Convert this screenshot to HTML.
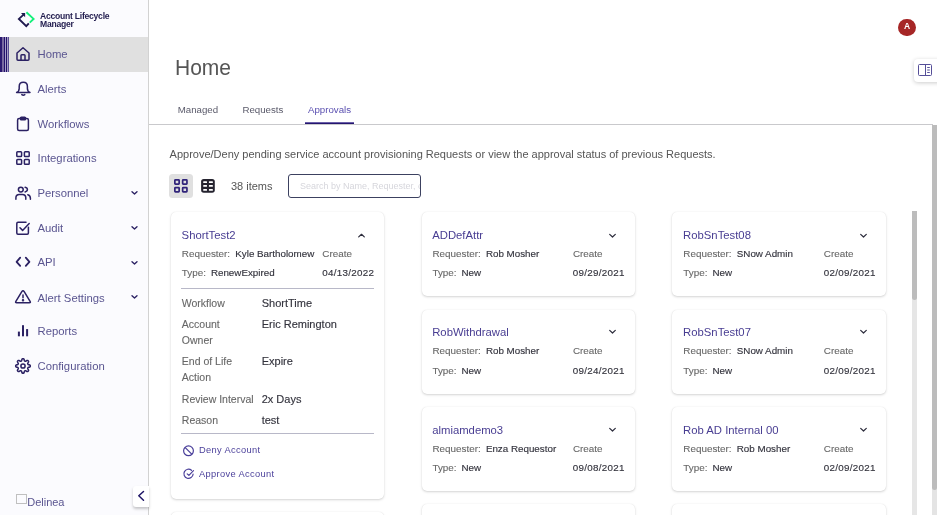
<!DOCTYPE html><html><head><meta charset="utf-8"><title>Home</title><style>
*{margin:0;padding:0;box-sizing:border-box}
html,body{width:937px;height:515px;overflow:hidden;background:#fff;font-family:'Liberation Sans', Arial, sans-serif}
.t{position:absolute;white-space:nowrap;line-height:1}
.a{position:absolute}
#side{position:absolute;left:0;top:0;width:149px;height:515px;background:#fbfbfe;border-right:1px solid #d2d2d2}
.card{position:absolute;background:#fff;border-radius:5px;box-shadow:0 1px 2.5px rgba(0,0,0,.17),0 0 1px rgba(0,0,0,.1)}
</style></head><body>
<div id="side"></div>
<svg class="a" style="left:17px;top:11px" width="18" height="17" viewBox="0 0 18 17">
<path d="M6.6 3.6 L1.9 7.9 L9.3 15.1 L11.8 12.4" fill="none" stroke="#1f1a4f" stroke-width="1.9" stroke-linejoin="miter" stroke-linecap="butt"/>
<path d="M4.0 2.1 L8.1 2.1 L8.1 6.2 Z" fill="#1f1a4f"/>
<path d="M9.4 1.2 L16.6 7.9 L12.7 11.6" fill="none" stroke="#14f07a" stroke-width="1.9" stroke-linejoin="miter"/>
</svg>
<div class="t" style="left:40.0px;top:11.72px;font-size:8.6px;color:#211c4e;font-weight:700;letter-spacing:-.25px;">Account Lifecycle</div>
<div class="t" style="left:40.0px;top:20.02px;font-size:8.6px;color:#211c4e;font-weight:700;letter-spacing:-.25px;">Manager</div>
<div class="a" style="left:0;top:37px;width:148px;height:35px;background:#e0e0e0"></div>
<div class="a" style="left:0;top:37px;width:9px;height:35px;background:linear-gradient(90deg,#2a1870 0,#2a1870 2px,#7868a0 2px,#7868a0 4px,#22106a 4px,#22106a 5px,#a59dc5 5px,#a59dc5 6px,#22106a 6px,#22106a 7px,#a59dc5 7px,#a59dc5 8px,#5a4c94 8px,#5a4c94 9px)"></div>
<div class="t" style="left:37.5px;top:48.73px;font-size:11.3px;color:#5a5590;font-weight:400;">Home</div>
<div class="t" style="left:37.5px;top:84.33px;font-size:11.3px;color:#5a5590;font-weight:400;">Alerts</div>
<div class="t" style="left:37.5px;top:119.23px;font-size:11.3px;color:#5a5590;font-weight:400;">Workflows</div>
<div class="t" style="left:37.5px;top:153.23px;font-size:11.3px;color:#5a5590;font-weight:400;">Integrations</div>
<div class="t" style="left:37.5px;top:188.43px;font-size:11.3px;color:#5a5590;font-weight:400;">Personnel</div>
<div class="t" style="left:37.5px;top:223.13px;font-size:11.3px;color:#5a5590;font-weight:400;">Audit</div>
<div class="t" style="left:37.5px;top:257.23px;font-size:11.3px;color:#5a5590;font-weight:400;">API</div>
<div class="t" style="left:37.5px;top:292.53px;font-size:11.3px;color:#5a5590;font-weight:400;">Alert Settings</div>
<div class="t" style="left:37.5px;top:326.43px;font-size:11.3px;color:#5a5590;font-weight:400;">Reports</div>
<div class="t" style="left:37.5px;top:361.13px;font-size:11.3px;color:#5a5590;font-weight:400;">Configuration</div>
<svg class="a" style="left:15px;top:46px" width="16" height="16" viewBox="0 0 16 16" fill="none" stroke="#2b2163" stroke-width="1.5" stroke-linecap="round" stroke-linejoin="round"><path d="M2 7 L8 1.8 L14 7 V13.2 Q14 14.2 13 14.2 H3 Q2 14.2 2 13.2 Z"/><path d="M6 14.2 V9.6 Q6 8.8 6.8 8.8 H9.2 Q10 8.8 10 9.6 V14.2"/></svg>
<svg class="a" style="left:15px;top:81px" width="16" height="16" viewBox="0 0 16 16" fill="none" stroke="#2b2163" stroke-width="1.5" stroke-linecap="round" stroke-linejoin="round"><path d="M1.6 11.5 Q4.2 10.4 4.2 7.5 V5.4 Q4.2 1.3 8.3 1.3 Q12.4 1.3 12.4 5.4 V7.5 Q12.4 10.4 15 11.5 Z"/><path d="M6.8 13.6 Q8.3 14.8 9.8 13.6"/></svg>
<svg class="a" style="left:15px;top:116px" width="16" height="16" viewBox="0 0 16 16" fill="none" stroke="#2b2163" stroke-width="1.5" stroke-linecap="round" stroke-linejoin="round"><rect x="2.6" y="2.6" width="10.8" height="12" rx="1.5"/><rect x="5.5" y="1.2" width="5" height="2.6" rx="0.8"/></svg>
<svg class="a" style="left:15px;top:150px" width="16" height="16" viewBox="0 0 16 16" fill="none" stroke="#2b2163" stroke-width="1.5" stroke-linecap="round" stroke-linejoin="round"><rect x="1.8" y="1.8" width="4.8" height="4.8" rx=".8"/><rect x="9.4" y="1.8" width="4.8" height="4.8" rx=".8"/><rect x="1.8" y="9.4" width="4.8" height="4.8" rx=".8"/><rect x="9.4" y="9.4" width="4.8" height="4.8" rx=".8"/></svg>
<svg class="a" style="left:14px;top:185px" width="18" height="16" viewBox="0 0 18 16" fill="none" stroke="#2b2163" stroke-width="1.5" stroke-linecap="round" stroke-linejoin="round"><circle cx="6.8" cy="4.6" r="2.4"/><path d="M1.9 14.3 V12.8 Q1.9 9.4 5.3 9.4 H8.4 Q11.8 9.4 11.8 12.8 V14.3"/><path d="M11.1 2.3 Q13.4 2.8 13.4 4.6 Q13.4 6.4 11.1 6.9"/><path d="M13.8 9.7 Q16.4 10.4 16.4 13.2 V14.3"/></svg>
<svg class="a" style="left:15px;top:220px" width="16" height="16" viewBox="0 0 16 16" fill="none" stroke="#2b2163" stroke-width="1.5" stroke-linecap="round" stroke-linejoin="round"><path d="M13.4 7.2 V13 Q13.4 14.2 12.2 14.2 H3 Q1.8 14.2 1.8 13 V3.4 Q1.8 2.2 3 2.2 H11"/><path d="M5 7.8 L7.6 10.4 L14.2 3.6"/></svg>
<svg class="a" style="left:15px;top:255px" width="16" height="16" viewBox="0 0 16 16" fill="none" stroke="#2b2163" stroke-width="1.5" stroke-linecap="round" stroke-linejoin="round"><path d="M5.2 2.7 L1.6 6.8 L5.2 10.9" stroke-width="1.8"/><path d="M10.8 2.7 L14.4 6.8 L10.8 10.9" stroke-width="1.8"/></svg>
<svg class="a" style="left:14px;top:289px" width="18" height="17" viewBox="0 0 18 17" fill="none" stroke="#2b2163" stroke-width="1.5" stroke-linecap="round" stroke-linejoin="round"><path d="M7.8 2.6 Q9 0.9 10.2 2.6 L16.1 12.3 Q17 13.8 15.3 13.8 H2.7 Q1 13.8 1.9 12.3 Z"/><path d="M9 5.9 V8.8"/><circle cx="9" cy="11.2" r=".5" fill="#2b2163"/></svg>
<svg class="a" style="left:15px;top:324px" width="16" height="16" viewBox="0 0 16 16" fill="#2b2163"><rect x="2.9" y="7.6" width="2" height="4.7"/><rect x="7" y="1.2" width="2" height="11.1"/><rect x="11.1" y="5.1" width="2" height="7.2"/></svg>
<svg class="a" style="left:14px;top:357px" width="18" height="18" viewBox="0 0 18 18" fill="none" stroke="#2b2163" stroke-width="1.5" stroke-linecap="round" stroke-linejoin="round"><circle cx="9" cy="9" r="2.1"/><path d="M9.00 1.70 L9.19 1.71 L9.38 1.74 L9.57 1.79 L9.75 1.89 L9.91 2.05 L10.06 2.31 L10.17 2.67 L10.26 3.07 L10.34 3.43 L10.42 3.69 L10.52 3.87 L10.63 3.99 L10.74 4.07 L10.87 4.14 L10.99 4.20 L11.12 4.24 L11.25 4.28 L11.39 4.30 L11.55 4.30 L11.75 4.24 L11.99 4.12 L12.30 3.92 L12.65 3.69 L12.98 3.52 L13.27 3.44 L13.50 3.44 L13.70 3.50 L13.87 3.60 L14.02 3.71 L14.16 3.84 L14.29 3.98 L14.40 4.13 L14.50 4.30 L14.56 4.50 L14.56 4.73 L14.48 5.02 L14.31 5.35 L14.08 5.70 L13.88 6.01 L13.76 6.25 L13.70 6.45 L13.70 6.61 L13.72 6.75 L13.76 6.88 L13.80 7.01 L13.86 7.13 L13.93 7.26 L14.01 7.37 L14.13 7.48 L14.31 7.58 L14.57 7.66 L14.93 7.74 L15.33 7.83 L15.69 7.94 L15.95 8.09 L16.11 8.25 L16.21 8.43 L16.26 8.62 L16.29 8.81 L16.30 9.00 L16.29 9.19 L16.26 9.38 L16.21 9.57 L16.11 9.75 L15.95 9.91 L15.69 10.06 L15.33 10.17 L14.93 10.26 L14.57 10.34 L14.31 10.42 L14.13 10.52 L14.01 10.63 L13.93 10.74 L13.86 10.87 L13.80 10.99 L13.76 11.12 L13.72 11.25 L13.70 11.39 L13.70 11.55 L13.76 11.75 L13.88 11.99 L14.08 12.30 L14.31 12.65 L14.48 12.98 L14.56 13.27 L14.56 13.50 L14.50 13.70 L14.40 13.87 L14.29 14.02 L14.16 14.16 L14.02 14.29 L13.87 14.40 L13.70 14.50 L13.50 14.56 L13.27 14.56 L12.98 14.48 L12.65 14.31 L12.30 14.08 L11.99 13.88 L11.75 13.76 L11.55 13.70 L11.39 13.70 L11.25 13.72 L11.12 13.76 L10.99 13.80 L10.87 13.86 L10.74 13.93 L10.63 14.01 L10.52 14.13 L10.42 14.31 L10.34 14.57 L10.26 14.93 L10.17 15.33 L10.06 15.69 L9.91 15.95 L9.75 16.11 L9.57 16.21 L9.38 16.26 L9.19 16.29 L9.00 16.30 L8.81 16.29 L8.62 16.26 L8.43 16.21 L8.25 16.11 L8.09 15.95 L7.94 15.69 L7.83 15.33 L7.74 14.93 L7.66 14.57 L7.58 14.31 L7.48 14.13 L7.37 14.01 L7.26 13.93 L7.13 13.86 L7.01 13.80 L6.88 13.76 L6.75 13.72 L6.61 13.70 L6.45 13.70 L6.25 13.76 L6.01 13.88 L5.70 14.08 L5.35 14.31 L5.02 14.48 L4.73 14.56 L4.50 14.56 L4.30 14.50 L4.13 14.40 L3.98 14.29 L3.84 14.16 L3.71 14.02 L3.60 13.87 L3.50 13.70 L3.44 13.50 L3.44 13.27 L3.52 12.98 L3.69 12.65 L3.92 12.30 L4.12 11.99 L4.24 11.75 L4.30 11.55 L4.30 11.39 L4.28 11.25 L4.24 11.12 L4.20 10.99 L4.14 10.87 L4.07 10.74 L3.99 10.63 L3.87 10.52 L3.69 10.42 L3.43 10.34 L3.07 10.26 L2.67 10.17 L2.31 10.06 L2.05 9.91 L1.89 9.75 L1.79 9.57 L1.74 9.38 L1.71 9.19 L1.70 9.00 L1.71 8.81 L1.74 8.62 L1.79 8.43 L1.89 8.25 L2.05 8.09 L2.31 7.94 L2.67 7.83 L3.07 7.74 L3.43 7.66 L3.69 7.58 L3.87 7.48 L3.99 7.37 L4.07 7.26 L4.14 7.13 L4.20 7.01 L4.24 6.88 L4.28 6.75 L4.30 6.61 L4.30 6.45 L4.24 6.25 L4.12 6.01 L3.92 5.70 L3.69 5.35 L3.52 5.02 L3.44 4.73 L3.44 4.50 L3.50 4.30 L3.60 4.13 L3.71 3.98 L3.84 3.84 L3.98 3.71 L4.13 3.60 L4.30 3.50 L4.50 3.44 L4.73 3.44 L5.02 3.52 L5.35 3.69 L5.70 3.92 L6.01 4.12 L6.25 4.24 L6.45 4.30 L6.61 4.30 L6.75 4.28 L6.88 4.24 L7.01 4.20 L7.13 4.14 L7.26 4.07 L7.37 3.99 L7.48 3.87 L7.58 3.69 L7.66 3.43 L7.74 3.07 L7.83 2.67 L7.94 2.31 L8.09 2.05 L8.25 1.89 L8.43 1.79 L8.62 1.74 L8.81 1.71 L9.00 1.70 Z"/></svg>
<svg class="a" style="left:130px;top:190.2px" width="9" height="6" viewBox="0 0 9 6" fill="none" stroke="#2b2163" stroke-width="1.35" stroke-linecap="round" stroke-linejoin="round"><path d="M2 1.7 L4.5 4.1 L7 1.7"/></svg>
<svg class="a" style="left:130px;top:224.9px" width="9" height="6" viewBox="0 0 9 6" fill="none" stroke="#2b2163" stroke-width="1.35" stroke-linecap="round" stroke-linejoin="round"><path d="M2 1.7 L4.5 4.1 L7 1.7"/></svg>
<svg class="a" style="left:130px;top:259.8px" width="9" height="6" viewBox="0 0 9 6" fill="none" stroke="#2b2163" stroke-width="1.35" stroke-linecap="round" stroke-linejoin="round"><path d="M2 1.7 L4.5 4.1 L7 1.7"/></svg>
<svg class="a" style="left:130px;top:294.3px" width="9" height="6" viewBox="0 0 9 6" fill="none" stroke="#2b2163" stroke-width="1.35" stroke-linecap="round" stroke-linejoin="round"><path d="M2 1.7 L4.5 4.1 L7 1.7"/></svg>
<div class="a" style="left:16px;top:494px;width:11px;height:10px;border:1px solid #c0c0c0"></div>
<div class="t" style="left:27.2px;top:497.29px;font-size:11px;color:#5a5590;font-weight:400;">Delinea</div>
<div class="a" style="left:133px;top:486px;width:16px;height:21px;background:#fff;border-radius:3px 0 0 3px;box-shadow:0 2px 3px rgba(0,0,0,.22)"></div>
<svg class="a" style="left:137px;top:490px" width="8" height="12" viewBox="0 0 8 12" fill="none" stroke="#1e1466" stroke-width="1.5" stroke-linecap="round" stroke-linejoin="round"><path d="M6.5 1.5 L1.8 5.8 L6.5 10.2"/></svg>
<div class="a" style="left:898.2px;top:18.8px;width:17.4px;height:17.4px;border-radius:50%;background:#a62626"></div>
<div class="t" style="left:903.9px;top:22.10px;font-size:8.5px;color:#fff;font-weight:700;">A</div>
<div class="a" style="left:914px;top:58.5px;width:30px;height:23.5px;background:#fff;border-radius:4px;box-shadow:0 1px 4px rgba(0,0,0,.2)"></div>
<svg class="a" style="left:917px;top:63px" width="16" height="14" viewBox="0 0 16 14" fill="none" stroke="#554e98" stroke-width="1"><rect x="1.5" y="1.5" width="13" height="11" rx="1"/><path d="M8.5 1.5 V12.5"/><path d="M10.2 4.5 H12.8 M10.2 7 H12.8 M10.2 9.5 H12.8"/></svg>
<div class="t" style="left:174.8px;top:56.98px;font-size:22px;color:#555555;font-weight:400;transform:scaleX(.955);transform-origin:0 0;">Home</div>
<div class="t" style="left:177.7px;top:104.99px;font-size:9.7px;color:#5a5a6a;font-weight:400;">Managed</div>
<div class="t" style="left:242.4px;top:104.99px;font-size:9.7px;color:#5a5a6a;font-weight:400;">Requests</div>
<div class="t" style="left:308.0px;top:104.99px;font-size:9.7px;color:#5a4fb0;font-weight:400;">Approvals</div>
<div class="a" style="left:149px;top:124px;width:784px;height:1px;background:#c9c9cc"></div>
<div class="a" style="left:305px;top:122px;width:49px;height:2px;background:linear-gradient(#6a5fa8 0,#6a5fa8 1px,#24156f 1px)"></div>
<div class="a" style="left:932px;top:124.5px;width:5px;height:391px;background:#e4e4e4"></div>
<div class="a" style="left:932px;top:124.5px;width:5px;height:365px;background:#bcbcbc;border-radius:0 0 3px 3px"></div>
<div class="a" style="left:912px;top:211px;width:5px;height:304px;background:#e6e6e6"></div>
<div class="a" style="left:912px;top:211px;width:5px;height:89px;background:#bcbcbc;border-radius:0 0 3px 3px"></div>
<div class="t" style="left:169.6px;top:148.69px;font-size:11px;color:#555;font-weight:400;">Approve/Deny pending service account provisioning Requests or view the approval status of previous Requests.</div>
<div class="a" style="left:169px;top:174px;width:23.8px;height:23.8px;background:#e0e0e0;border-radius:3.5px"></div>
<svg class="a" style="left:174px;top:179px" width="14" height="14" viewBox="0 0 14 14" fill="none" stroke="#30237a" stroke-width="1.7"><rect x=".85" y=".85" width="4.3" height="4.3" rx=".6"/><rect x="8.65" y=".85" width="4.3" height="4.3" rx=".6"/><rect x=".85" y="8.65" width="4.3" height="4.3" rx=".6"/><rect x="8.65" y="8.65" width="4.3" height="4.3" rx=".6"/></svg>
<svg class="a" style="left:201px;top:179px" width="14" height="14" viewBox="0 0 14 14"><rect x=".1" y="0" width="13.7" height="13.7" rx="2.6" fill="#25232f"/><g fill="#fff"><rect x="2.2" y="2.2" width="3.8" height="1.8" rx=".5"/><rect x="7.9" y="2.2" width="4" height="1.8" rx=".5"/><rect x="2.2" y="6" width="3.8" height="1.8" rx=".5"/><rect x="7.9" y="6" width="4" height="1.8" rx=".5"/><rect x="2.2" y="10" width="3.8" height="1.8" rx=".5"/><rect x="7.9" y="10" width="4" height="1.8" rx=".5"/></g></svg>
<div class="t" style="left:230.9px;top:180.59px;font-size:11px;color:#555;font-weight:400;">38 items</div>
<div class="a" style="left:288px;top:174px;width:133px;height:24px;border:1px solid #3c4160;border-radius:3px;overflow:hidden"><div class="t" style="left:11px;top:7px;font-size:9px;color:#d6d6dc">Search by Name, Requester, or Type</div></div>
<div class="card" style="left:171px;top:212px;width:213px;height:287px"></div>
<div class="t" style="left:181.6px;top:230.13px;font-size:11.3px;color:#483d92;font-weight:400;">ShortTest2</div>
<svg class="a" style="left:357.2px;top:232.5px" width="9" height="6" viewBox="0 0 9 6" fill="none" stroke="#2d2d3d" stroke-width="1.25" stroke-linecap="round" stroke-linejoin="round"><path d="M1.7 3.9 L4.5 1.3 L7.3 3.9"/></svg>
<div class="t" style="left:181.8px;top:248.92px;font-size:9.9px;color:#676767;font-weight:400;-webkit-text-stroke:0.1px #676767;">Requester:</div>
<div class="t" style="left:235.3px;top:249.00px;font-size:9.8px;color:#34343e;font-weight:400;-webkit-text-stroke:0.15px #34343e;">Kyle Bartholomew</div>
<div class="t" style="left:322.3px;top:248.92px;font-size:9.9px;color:#676767;font-weight:400;-webkit-text-stroke:0.1px #676767;">Create</div>
<div class="t" style="left:181.8px;top:267.82px;font-size:9.9px;color:#676767;font-weight:400;-webkit-text-stroke:0.1px #676767;">Type:</div>
<div class="t" style="left:210.9px;top:267.90px;font-size:9.8px;color:#34343e;font-weight:400;-webkit-text-stroke:0.15px #34343e;">RenewExpired</div>
<div class="t" style="left:322.2px;top:267.90px;font-size:9.8px;color:#34343e;font-weight:400;-webkit-text-stroke:0.15px #34343e;letter-spacing:.3px;">04/13/2022</div>
<div class="a" style="left:181px;top:288px;width:193px;height:1px;background:#b8b8c8"></div>
<div class="t" style="left:181.8px;top:298.11px;font-size:10.5px;color:#676767;font-weight:400;-webkit-text-stroke:0.1px #676767;">Workflow</div>
<div class="t" style="left:261.7px;top:298.39px;font-size:11px;color:#34343e;font-weight:400;-webkit-text-stroke:0.15px #34343e;">ShortTime</div>
<div class="t" style="left:181.8px;top:318.91px;font-size:10.5px;color:#676767;font-weight:400;-webkit-text-stroke:0.1px #676767;">Account</div>
<div class="t" style="left:181.8px;top:335.11px;font-size:10.5px;color:#676767;font-weight:400;-webkit-text-stroke:0.1px #676767;">Owner</div>
<div class="t" style="left:261.7px;top:319.19px;font-size:11px;color:#34343e;font-weight:400;-webkit-text-stroke:0.15px #34343e;">Eric Remington</div>
<div class="t" style="left:181.8px;top:355.81px;font-size:10.5px;color:#676767;font-weight:400;-webkit-text-stroke:0.1px #676767;">End of Life</div>
<div class="t" style="left:181.8px;top:372.01px;font-size:10.5px;color:#676767;font-weight:400;-webkit-text-stroke:0.1px #676767;">Action</div>
<div class="t" style="left:261.7px;top:356.09px;font-size:11px;color:#34343e;font-weight:400;-webkit-text-stroke:0.15px #34343e;">Expire</div>
<div class="t" style="left:181.8px;top:394.11px;font-size:10.5px;color:#676767;font-weight:400;-webkit-text-stroke:0.1px #676767;">Review Interval</div>
<div class="t" style="left:261.7px;top:394.39px;font-size:11px;color:#34343e;font-weight:400;-webkit-text-stroke:0.15px #34343e;">2x Days</div>
<div class="t" style="left:181.8px;top:414.91px;font-size:10.5px;color:#676767;font-weight:400;-webkit-text-stroke:0.1px #676767;">Reason</div>
<div class="t" style="left:261.7px;top:415.19px;font-size:11px;color:#34343e;font-weight:400;-webkit-text-stroke:0.15px #34343e;">test</div>
<div class="a" style="left:181px;top:432.5px;width:193px;height:1px;background:#b8b8c8"></div>
<svg class="a" style="left:181.8px;top:444.5px" width="13" height="12" viewBox="0 0 13 12" fill="none" stroke="#4a3f9a" stroke-width="1.2"><circle cx="6.5" cy="5.8" r="4.9"/><path d="M3 2.3 L10 9.3"/></svg>
<div class="t" style="left:198.9px;top:446.23px;font-size:9.3px;color:#4a3f9a;font-weight:400;letter-spacing:.35px;">Deny Account</div>
<svg class="a" style="left:181.8px;top:467.5px" width="13" height="12" viewBox="0 0 13 12" fill="none" stroke="#4a3f9a" stroke-width="1.2" stroke-linecap="round" stroke-linejoin="round"><path d="M9.46 2.28 A4.6 4.6 0 1 0 11.08 6.2"/><path d="M5.2 5.9 L6.9 7.4 L11.5 2.6"/></svg>
<div class="t" style="left:198.9px;top:469.63px;font-size:9.3px;color:#4a3f9a;font-weight:400;letter-spacing:.35px;">Approve Account</div>
<div class="card" style="left:171px;top:512px;width:213px;height:90px"></div>
<div class="card" style="left:422px;top:212px;width:213px;height:84px"></div>
<div class="t" style="left:432.2px;top:230.13px;font-size:11.3px;color:#483d92;font-weight:400;">ADDefAttr</div>
<svg class="a" style="left:607.8px;top:232.5px" width="9" height="6" viewBox="0 0 9 6" fill="none" stroke="#2d2d3d" stroke-width="1.25" stroke-linecap="round" stroke-linejoin="round"><path d="M1.7 1.4 L4.5 4.0 L7.3 1.4"/></svg>
<div class="t" style="left:432.4px;top:248.92px;font-size:9.9px;color:#676767;font-weight:400;-webkit-text-stroke:0.1px #676767;">Requester:</div>
<div class="t" style="left:485.9px;top:249.00px;font-size:9.8px;color:#34343e;font-weight:400;-webkit-text-stroke:0.15px #34343e;">Rob Mosher</div>
<div class="t" style="left:572.9px;top:248.92px;font-size:9.9px;color:#676767;font-weight:400;-webkit-text-stroke:0.1px #676767;">Create</div>
<div class="t" style="left:432.4px;top:267.82px;font-size:9.9px;color:#676767;font-weight:400;-webkit-text-stroke:0.1px #676767;">Type:</div>
<div class="t" style="left:461.5px;top:267.90px;font-size:9.8px;color:#34343e;font-weight:400;-webkit-text-stroke:0.15px #34343e;">New</div>
<div class="t" style="left:572.8px;top:267.90px;font-size:9.8px;color:#34343e;font-weight:400;-webkit-text-stroke:0.15px #34343e;letter-spacing:.3px;">09/29/2021</div>
<div class="card" style="left:672px;top:212px;width:214px;height:84px"></div>
<div class="t" style="left:683.1px;top:230.13px;font-size:11.3px;color:#483d92;font-weight:400;">RobSnTest08</div>
<svg class="a" style="left:858.7px;top:232.5px" width="9" height="6" viewBox="0 0 9 6" fill="none" stroke="#2d2d3d" stroke-width="1.25" stroke-linecap="round" stroke-linejoin="round"><path d="M1.7 1.4 L4.5 4.0 L7.3 1.4"/></svg>
<div class="t" style="left:683.3px;top:248.92px;font-size:9.9px;color:#676767;font-weight:400;-webkit-text-stroke:0.1px #676767;">Requester:</div>
<div class="t" style="left:736.8px;top:249.00px;font-size:9.8px;color:#34343e;font-weight:400;-webkit-text-stroke:0.15px #34343e;">SNow Admin</div>
<div class="t" style="left:823.8px;top:248.92px;font-size:9.9px;color:#676767;font-weight:400;-webkit-text-stroke:0.1px #676767;">Create</div>
<div class="t" style="left:683.3px;top:267.82px;font-size:9.9px;color:#676767;font-weight:400;-webkit-text-stroke:0.1px #676767;">Type:</div>
<div class="t" style="left:712.4px;top:267.90px;font-size:9.8px;color:#34343e;font-weight:400;-webkit-text-stroke:0.15px #34343e;">New</div>
<div class="t" style="left:823.7px;top:267.90px;font-size:9.8px;color:#34343e;font-weight:400;-webkit-text-stroke:0.15px #34343e;letter-spacing:.3px;">02/09/2021</div>
<div class="card" style="left:422px;top:310px;width:213px;height:84px"></div>
<div class="t" style="left:432.2px;top:326.93px;font-size:11.3px;color:#483d92;font-weight:400;">RobWithdrawal</div>
<svg class="a" style="left:607.8px;top:329.3px" width="9" height="6" viewBox="0 0 9 6" fill="none" stroke="#2d2d3d" stroke-width="1.25" stroke-linecap="round" stroke-linejoin="round"><path d="M1.7 1.4 L4.5 4.0 L7.3 1.4"/></svg>
<div class="t" style="left:432.4px;top:345.72px;font-size:9.9px;color:#676767;font-weight:400;-webkit-text-stroke:0.1px #676767;">Requester:</div>
<div class="t" style="left:485.9px;top:345.80px;font-size:9.8px;color:#34343e;font-weight:400;-webkit-text-stroke:0.15px #34343e;">Rob Mosher</div>
<div class="t" style="left:572.9px;top:345.72px;font-size:9.9px;color:#676767;font-weight:400;-webkit-text-stroke:0.1px #676767;">Create</div>
<div class="t" style="left:432.4px;top:365.52px;font-size:9.9px;color:#676767;font-weight:400;-webkit-text-stroke:0.1px #676767;">Type:</div>
<div class="t" style="left:461.5px;top:365.60px;font-size:9.8px;color:#34343e;font-weight:400;-webkit-text-stroke:0.15px #34343e;">New</div>
<div class="t" style="left:572.8px;top:365.60px;font-size:9.8px;color:#34343e;font-weight:400;-webkit-text-stroke:0.15px #34343e;letter-spacing:.3px;">09/24/2021</div>
<div class="card" style="left:672px;top:310px;width:214px;height:84px"></div>
<div class="t" style="left:683.1px;top:326.93px;font-size:11.3px;color:#483d92;font-weight:400;">RobSnTest07</div>
<svg class="a" style="left:858.7px;top:329.3px" width="9" height="6" viewBox="0 0 9 6" fill="none" stroke="#2d2d3d" stroke-width="1.25" stroke-linecap="round" stroke-linejoin="round"><path d="M1.7 1.4 L4.5 4.0 L7.3 1.4"/></svg>
<div class="t" style="left:683.3px;top:345.72px;font-size:9.9px;color:#676767;font-weight:400;-webkit-text-stroke:0.1px #676767;">Requester:</div>
<div class="t" style="left:736.8px;top:345.80px;font-size:9.8px;color:#34343e;font-weight:400;-webkit-text-stroke:0.15px #34343e;">SNow Admin</div>
<div class="t" style="left:823.8px;top:345.72px;font-size:9.9px;color:#676767;font-weight:400;-webkit-text-stroke:0.1px #676767;">Create</div>
<div class="t" style="left:683.3px;top:365.52px;font-size:9.9px;color:#676767;font-weight:400;-webkit-text-stroke:0.1px #676767;">Type:</div>
<div class="t" style="left:712.4px;top:365.60px;font-size:9.8px;color:#34343e;font-weight:400;-webkit-text-stroke:0.15px #34343e;">New</div>
<div class="t" style="left:823.7px;top:365.60px;font-size:9.8px;color:#34343e;font-weight:400;-webkit-text-stroke:0.15px #34343e;letter-spacing:.3px;">02/09/2021</div>
<div class="card" style="left:422px;top:407px;width:213px;height:84px"></div>
<div class="t" style="left:432.2px;top:425.03px;font-size:11.3px;color:#483d92;font-weight:400;">almiamdemo3</div>
<svg class="a" style="left:607.8px;top:427.4px" width="9" height="6" viewBox="0 0 9 6" fill="none" stroke="#2d2d3d" stroke-width="1.25" stroke-linecap="round" stroke-linejoin="round"><path d="M1.7 1.4 L4.5 4.0 L7.3 1.4"/></svg>
<div class="t" style="left:432.4px;top:443.82px;font-size:9.9px;color:#676767;font-weight:400;-webkit-text-stroke:0.1px #676767;">Requester:</div>
<div class="t" style="left:485.9px;top:443.90px;font-size:9.8px;color:#34343e;font-weight:400;-webkit-text-stroke:0.15px #34343e;">Enza Requestor</div>
<div class="t" style="left:572.9px;top:443.82px;font-size:9.9px;color:#676767;font-weight:400;-webkit-text-stroke:0.1px #676767;">Create</div>
<div class="t" style="left:432.4px;top:462.72px;font-size:9.9px;color:#676767;font-weight:400;-webkit-text-stroke:0.1px #676767;">Type:</div>
<div class="t" style="left:461.5px;top:462.80px;font-size:9.8px;color:#34343e;font-weight:400;-webkit-text-stroke:0.15px #34343e;">New</div>
<div class="t" style="left:572.8px;top:462.80px;font-size:9.8px;color:#34343e;font-weight:400;-webkit-text-stroke:0.15px #34343e;letter-spacing:.3px;">09/08/2021</div>
<div class="card" style="left:672px;top:407px;width:214px;height:84px"></div>
<div class="t" style="left:683.1px;top:425.03px;font-size:11.3px;color:#483d92;font-weight:400;">Rob AD Internal 00</div>
<svg class="a" style="left:858.7px;top:427.4px" width="9" height="6" viewBox="0 0 9 6" fill="none" stroke="#2d2d3d" stroke-width="1.25" stroke-linecap="round" stroke-linejoin="round"><path d="M1.7 1.4 L4.5 4.0 L7.3 1.4"/></svg>
<div class="t" style="left:683.3px;top:443.82px;font-size:9.9px;color:#676767;font-weight:400;-webkit-text-stroke:0.1px #676767;">Requester:</div>
<div class="t" style="left:736.8px;top:443.90px;font-size:9.8px;color:#34343e;font-weight:400;-webkit-text-stroke:0.15px #34343e;">Rob Mosher</div>
<div class="t" style="left:823.8px;top:443.82px;font-size:9.9px;color:#676767;font-weight:400;-webkit-text-stroke:0.1px #676767;">Create</div>
<div class="t" style="left:683.3px;top:462.72px;font-size:9.9px;color:#676767;font-weight:400;-webkit-text-stroke:0.1px #676767;">Type:</div>
<div class="t" style="left:712.4px;top:462.80px;font-size:9.8px;color:#34343e;font-weight:400;-webkit-text-stroke:0.15px #34343e;">New</div>
<div class="t" style="left:823.7px;top:462.80px;font-size:9.8px;color:#34343e;font-weight:400;-webkit-text-stroke:0.15px #34343e;letter-spacing:.3px;">02/09/2021</div>
<div class="card" style="left:422px;top:504px;width:213px;height:84px"></div>
<div class="card" style="left:672px;top:504px;width:214px;height:84px"></div>
</body></html>
